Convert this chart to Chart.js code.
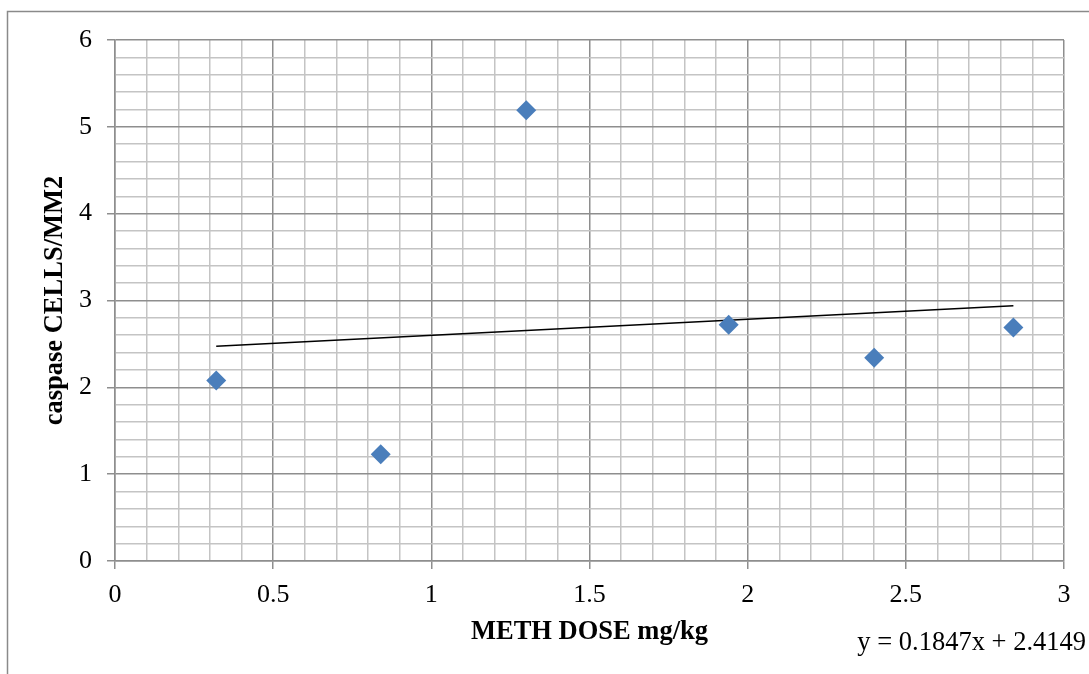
<!DOCTYPE html>
<html>
<head>
<meta charset="utf-8">
<script src="https://cdn.jsdelivr.net/npm/chart.js@4/dist/chart.umd.min.js"></script>
<style>
  html, body { margin: 0; padding: 0; background: #ffffff; }
  #wrap { width: 1089px; height: 674px; position: relative; }
</style>
</head>
<body>
<div id="wrap"><canvas id="c" width="1089" height="674"></canvas></div>
<script>
// ---- data ----
const doseMgKg = [0.32, 0.84, 1.30, 1.94, 2.40, 2.84];
const caspaseCells = [2.08, 1.23, 5.19, 2.72, 2.34, 2.69];
// linear trendline as printed on the chart
const trendSlope = 0.1847;
const trendIntercept = 2.4149;
const trendLabel = 'y = 0.1847x + 2.4149';
const xTitle = 'METH DOSE mg/kg';
const yTitle = 'caspase CELLS/MM2';

const trendX = [Math.min(...doseMgKg), Math.max(...doseMgKg)];
const trendPts = trendX.map(x => ({ x: x, y: trendSlope * x + trendIntercept }));
const scatterPts = doseMgKg.map((x, i) => ({ x: x, y: caspaseCells[i] }));

const SERIF = '"Liberation Serif", "Times New Roman", serif';
const MAJOR = '#8e8e8e';
const MINOR = '#c4c4c4';

function isMult(v, m) { const q = v / m; return Math.abs(q - Math.round(q)) < 1e-6; }

const frame = {
  id: 'frame',
  beforeDraw(chart) {
    const ctx = chart.ctx;
    ctx.save();
    ctx.strokeStyle = '#8a8a8a';
    ctx.lineWidth = 1.5;
    ctx.strokeRect(7.5, 11.5, 1200, 1000);
    ctx.restore();
  },
  afterDraw(chart) {
    const ctx = chart.ctx;
    ctx.save();
    ctx.fillStyle = '#000';
    ctx.font = '26.5px ' + SERIF;
    ctx.textAlign = 'right';
    ctx.textBaseline = 'middle';
    ctx.fillText(trendLabel, 1086, 643);
    ctx.restore();
  }
};

new Chart(document.getElementById('c'), {
  data: {
    datasets: [
      {
        type: 'scatter',
        data: scatterPts,
        pointStyle: 'rectRot',
        pointRadius: 10,
        pointHoverRadius: 10,
        backgroundColor: '#4a7ebb',
        borderColor: '#4a7ebb',
        borderWidth: 0,
        order: 1
      },
      {
        type: 'line',
        data: trendPts,
        borderColor: '#000000',
        borderWidth: 1.6,
        pointRadius: 0,
        fill: false,
        order: 2
      }
    ]
  },
  options: {
    responsive: false,
    animation: false,
    devicePixelRatio: 1,
    layout: { padding: { left: 0, top: 40, right: 25, bottom: 0 } },
    plugins: { legend: { display: false }, tooltip: { enabled: false } },
    scales: {
      x: {
        type: 'linear',
        position: 'bottom',
        min: 0, max: 3,
        afterFit(s) { s.height = 113; },
        ticks: {
          stepSize: 0.1,
          autoSkip: false,
          maxRotation: 0,
          padding: 11,
          color: '#000',
          font: { family: SERIF, size: 26 },
          callback(v) { return isMult(v, 0.5) ? String(Math.round(v * 2) / 2) : ''; }
        },
        grid: {
          color: c => isMult(c.tick.value, 0.5) ? MAJOR : MINOR,
          tickColor: c => isMult(c.tick.value, 0.5) ? MAJOR : 'rgba(0,0,0,0)',
          lineWidth: 1.5,
          tickLength: 8
        },
        border: { color: MAJOR, width: 1.5 },
        title: {
          display: true,
          text: xTitle,
          color: '#000',
          font: { family: SERIF, size: 26.5, weight: 'bold' },
          padding: { top: 0, bottom: 26 }
        }
      },
      y: {
        type: 'linear',
        position: 'left',
        min: 0, max: 6,
        afterFit(s) { s.width = 115; },
        ticks: {
          stepSize: 0.2,
          autoSkip: false,
          padding: 15,
          color: '#000',
          font: { family: SERIF, size: 26 },
          callback(v) { return isMult(v, 1) ? String(Math.round(v)) : ''; }
        },
        grid: {
          color: c => isMult(c.tick.value, 1) ? MAJOR : MINOR,
          tickColor: c => isMult(c.tick.value, 1) ? MAJOR : 'rgba(0,0,0,0)',
          lineWidth: 1.5,
          tickLength: 8
        },
        border: { color: MAJOR, width: 1.5 },
        title: {
          display: true,
          text: yTitle,
          color: '#000',
          font: { family: SERIF, size: 26.5, weight: 'bold' },
          padding: { top: 39, bottom: 0 }
        }
      }
    }
  },
  plugins: [frame]
});
</script>
</body>
</html>
